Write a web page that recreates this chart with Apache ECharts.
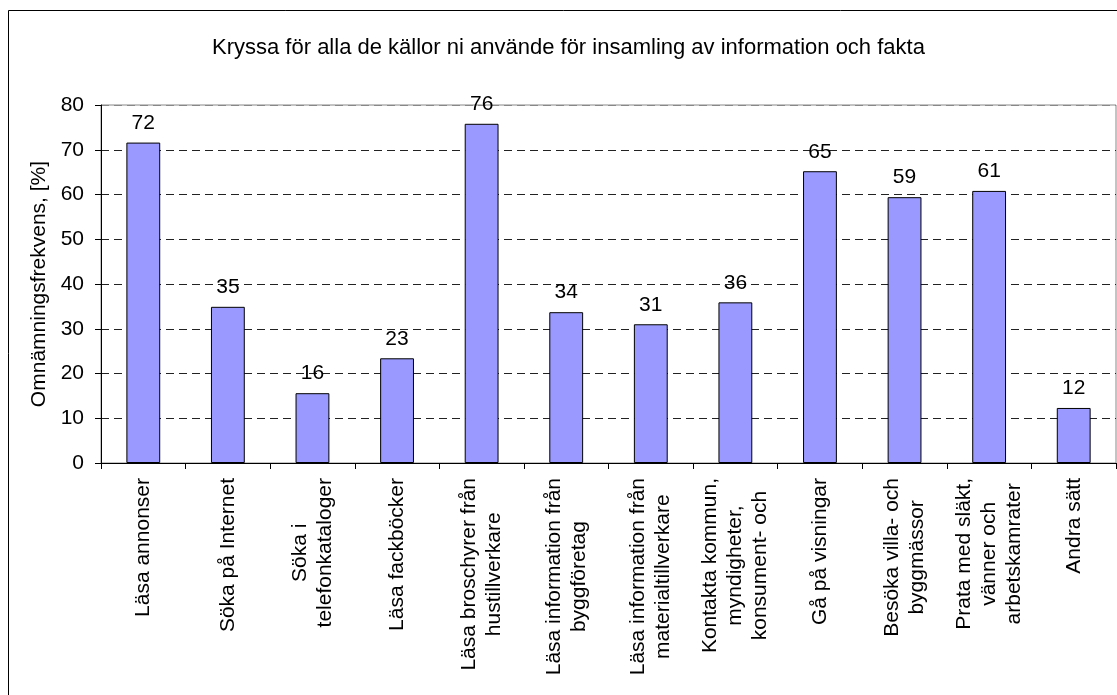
<!DOCTYPE html>
<html>
<head>
<meta charset="utf-8">
<title>Kryssa för alla de källor</title>
<script src="https://cdn.jsdelivr.net/npm/echarts@6/dist/echarts.min.js"></script>
<style>
  html, body { margin: 0; padding: 0; background: #fff; }
  #chart { width: 1117px; height: 695px; }
</style>
</head>
<body>
<div id="chart"></div>
<script>
// etiketter på x-axeln (radbrytningar som i originalet)
const categories = [
  'Läsa annonser',
  'Söka på Internet',
  'Söka i\ntelefonkataloger',
  'Läsa fackböcker',
  'Läsa broschyrer från\nhustillverkare',
  'Läsa information från\nbyggföretag',
  'Läsa information från\nmaterialtillverkare',
  'Kontakta kommun,\nmyndigheter,\nkonsument- och',
  'Gå på visningar',
  'Besöka villa- och\nbyggmässor',
  'Prata med släkt,\nvänner och\narbetskamrater',
  'Andra sätt'
]
// omnämningsfrekvens i procent
const values = [71.6, 34.9, 15.6, 23.4, 75.8, 33.7, 31.0, 35.9, 65.2, 59.4, 60.8, 12.3]
// y-axelns skala
const yMin = 0
const yMax = 80
const yStep = 10

const font = 'Liberation Sans, Arial, sans-serif'
const fs = 21

// streckade stödlinjer, den översta (80) grå som ramen
const gridColors = []
for (let v = yMin; v <= yMax; v += yStep) {
  gridColors.push(v === yMax ? '#888888' : '#222222')
}

const option = {
  animation: false,
  backgroundColor: '#fff',
  textStyle: { fontFamily: font },
  title: {
    text: 'Kryssa för alla de källor ni använde för insamling av information och fakta',
    left: 207,
    top: 32,
    textStyle: { fontFamily: font, fontSize: 22, fontWeight: 'normal', color: '#000' }
  },
  graphic: [
    {
      type: 'rect',
      silent: true,
      z: -1,
      shape: { x: 8.5, y: 10.5, width: 1200, height: 800 },
      style: { fill: 'none', stroke: '#000', lineWidth: 1 }
    }
  ],
  grid: {
    left: 101,
    top: 105,
    right: 1,
    bottom: 232,
    show: true,
    borderColor: '#888888',
    borderWidth: 1,
    backgroundColor: 'transparent'
  },
  xAxis: {
    type: 'category',
    data: categories,
    axisLine: { lineStyle: { color: '#000', width: 1 } },
    axisTick: { show: true, length: 6, lineStyle: { color: '#000' } },
    axisLabel: {
      interval: 0,
      rotate: 90,
      margin: 15,
      fontSize: fs,
      lineHeight: 25,
      color: '#000',
      fontFamily: font,
      formatter: function (val) {
        return val.split('\n').map(s => '{c|' + s + '}').join('\n')
      },
      rich: {
        c: { align: 'center', fontSize: fs, lineHeight: 25, color: '#000', fontFamily: font }
      }
    }
  },
  yAxis: {
    type: 'value',
    min: yMin,
    max: yMax,
    interval: yStep,
    name: 'Omnämningsfrekvens, [%]',
    nameLocation: 'middle',
    nameGap: 50,
    nameTextStyle: { fontSize: fs, color: '#000', fontFamily: font },
    axisLine: { show: true, lineStyle: { color: '#000', width: 1 } },
    axisTick: { show: true, length: 6, lineStyle: { color: '#000' } },
    axisLabel: { fontSize: fs, color: '#000', margin: 17, fontFamily: font },
    splitLine: {
      show: true,
      lineStyle: { color: gridColors, type: [8, 5], width: 1 }
    }
  },
  series: [
    {
      type: 'bar',
      data: values,
      barWidth: '40%',
      itemStyle: { color: '#9999FF', borderColor: '#000', borderWidth: 1 },
      label: {
        show: true,
        position: 'top',
        distance: 9,
        fontSize: fs,
        color: '#000',
        fontFamily: font,
        formatter: p => Math.round(p.value)
      }
    }
  ]
}

const chart = echarts.init(document.getElementById('chart'))
chart.setOption(option)
</script>
</body>
</html>
